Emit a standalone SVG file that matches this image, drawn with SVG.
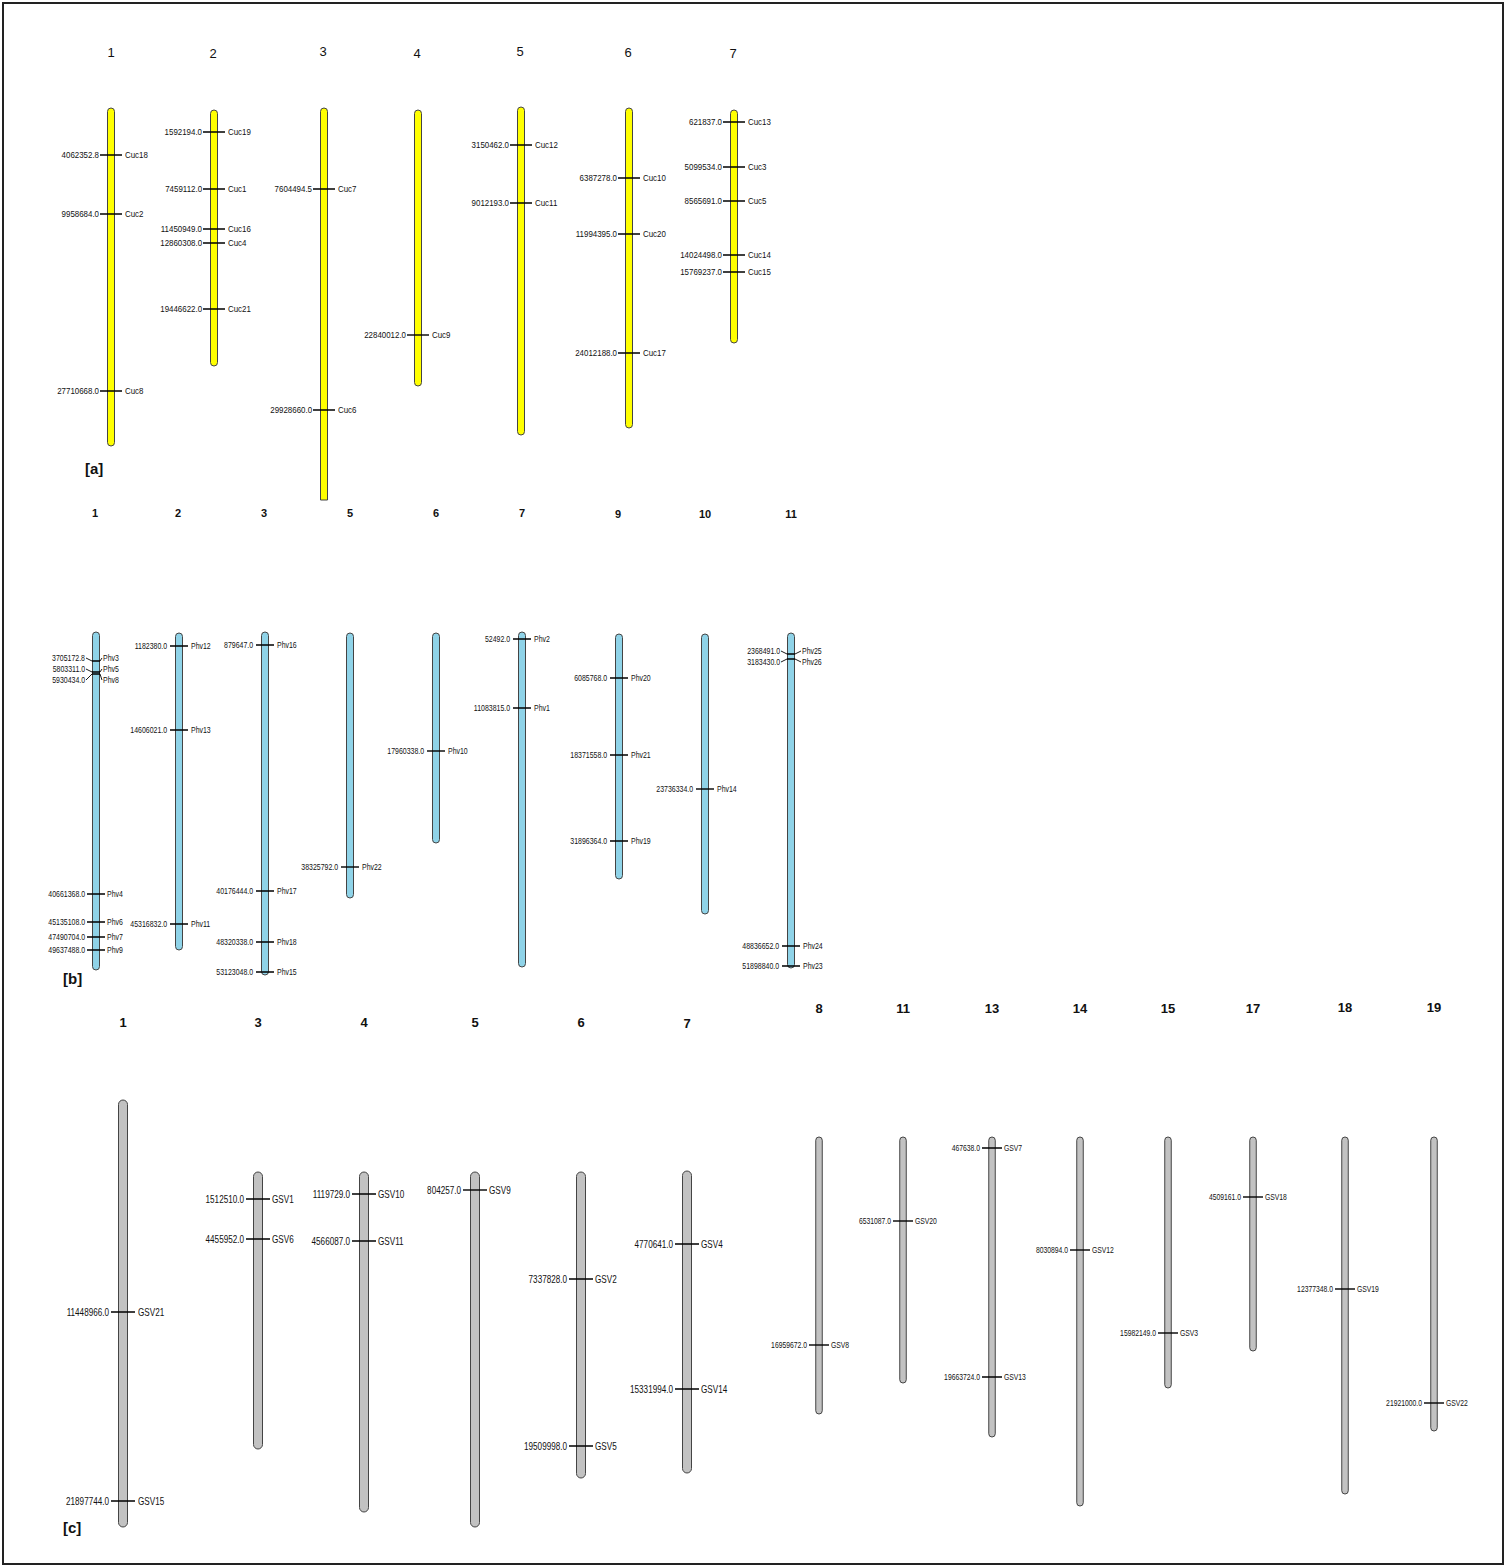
<svg xmlns="http://www.w3.org/2000/svg" width="1507" height="1568" viewBox="0 0 1507 1568">
<style>
text{font-family:"Liberation Sans",Arial,sans-serif;fill:#111;transform-box:fill-box;transform-origin:0 50%}
text.e{text-anchor:end;transform-origin:100% 50%}
.na{font-size:9px;transform:scaleX(0.88)}
.nb{font-size:8.5px;transform:scaleX(0.82)}
.nc{font-size:11px;transform:scaleX(0.74)}
.ns{font-size:8.5px;transform:scaleX(0.8)}
.ha{font-size:13px;text-anchor:middle}
.hb{font-size:11px;font-weight:bold;text-anchor:middle}
.hc{font-size:13px;font-weight:bold;text-anchor:middle}
.pl{font-size:15px;font-weight:bold}
.y{fill:#ffff00;stroke:#444;stroke-width:1}
.b{fill:#8fd3e8;stroke:#444;stroke-width:1}
.g{fill:#c2c2c2;stroke:#444;stroke-width:1}
.t{stroke:#000;stroke-width:1.4;fill:none}
.l{stroke:#000;stroke-width:0.9;fill:none}
</style>
<rect x="3" y="3" width="1500" height="1561" fill="#fff" stroke="#222" stroke-width="2"/>

<!-- Panel a -->
<g id="panel-a-headers">
<text class="ha" x="111" y="57">1</text><text class="ha" x="213" y="58">2</text><text class="ha" x="323" y="56">3</text><text class="ha" x="417" y="58">4</text><text class="ha" x="520" y="56">5</text><text class="ha" x="628" y="57">6</text><text class="ha" x="733" y="58">7</text>
<text class="pl" x="85" y="474">[a]</text>
</g>
<g id="a1"><rect class="y" x="107.5" y="108" width="7" height="338" rx="3.5"/>
<path class="t" d="M100 155H122M100 214H122M100 391H122"/>
<text class="na e" x="99" y="158">4062352.8</text><text class="na" x="125" y="158">Cuc18</text>
<text class="na e" x="99" y="217">9958684.0</text><text class="na" x="125" y="217">Cuc2</text>
<text class="na e" x="99" y="394">27710668.0</text><text class="na" x="125" y="394">Cuc8</text></g>
<g id="a2"><rect class="y" x="210.5" y="110" width="7" height="256" rx="3.5"/>
<path class="t" d="M203 132H225M203 189H225M203 229H225M203 243H225M203 309H225"/>
<text class="na e" x="202" y="135">1592194.0</text><text class="na" x="228" y="135">Cuc19</text>
<text class="na e" x="202" y="192">7459112.0</text><text class="na" x="228" y="192">Cuc1</text>
<text class="na e" x="202" y="232">11450949.0</text><text class="na" x="228" y="232">Cuc16</text>
<text class="na e" x="202" y="246">12860308.0</text><text class="na" x="228" y="246">Cuc4</text>
<text class="na e" x="202" y="312">19446622.0</text><text class="na" x="228" y="312">Cuc21</text></g>
<g id="a3"><path class="y" d="M320.5 500V111.5A3.5 3.5 0 0 1 327.5 111.5V500Z"/>
<path class="t" d="M313 189H335M313 410H335"/>
<text class="na e" x="312" y="192">7604494.5</text><text class="na" x="338" y="192">Cuc7</text>
<text class="na e" x="312" y="413">29928660.0</text><text class="na" x="338" y="413">Cuc6</text></g>
<g id="a4"><rect class="y" x="414.5" y="110" width="7" height="276" rx="3.5"/>
<path class="t" d="M407 335H429"/>
<text class="na e" x="406" y="338">22840012.0</text><text class="na" x="432" y="338">Cuc9</text></g>
<g id="a5"><rect class="y" x="517.5" y="107" width="7" height="328" rx="3.5"/>
<path class="t" d="M510 145H532M510 203H532"/>
<text class="na e" x="509" y="148">3150462.0</text><text class="na" x="535" y="148">Cuc12</text>
<text class="na e" x="509" y="206">9012193.0</text><text class="na" x="535" y="206">Cuc11</text></g>
<g id="a6"><rect class="y" x="625.5" y="108" width="7" height="320" rx="3.5"/>
<path class="t" d="M618 178H640M618 234H640M618 353H640"/>
<text class="na e" x="617" y="181">6387278.0</text><text class="na" x="643" y="181">Cuc10</text>
<text class="na e" x="617" y="237">11994395.0</text><text class="na" x="643" y="237">Cuc20</text>
<text class="na e" x="617" y="356">24012188.0</text><text class="na" x="643" y="356">Cuc17</text></g>
<g id="a7"><rect class="y" x="730.5" y="110" width="7" height="233" rx="3.5"/>
<path class="t" d="M723 122H745M723 167H745M723 201H745M723 255H745M723 272H745"/>
<text class="na e" x="722" y="125">621837.0</text><text class="na" x="748" y="125">Cuc13</text>
<text class="na e" x="722" y="170">5099534.0</text><text class="na" x="748" y="170">Cuc3</text>
<text class="na e" x="722" y="204">8565691.0</text><text class="na" x="748" y="204">Cuc5</text>
<text class="na e" x="722" y="258">14024498.0</text><text class="na" x="748" y="258">Cuc14</text>
<text class="na e" x="722" y="275">15769237.0</text><text class="na" x="748" y="275">Cuc15</text></g>

<!-- Panel b -->
<g id="panel-b-headers">
<text class="hb" x="95" y="517">1</text><text class="hb" x="178" y="517">2</text><text class="hb" x="264" y="517">3</text><text class="hb" x="350" y="517">5</text><text class="hb" x="436" y="517">6</text><text class="hb" x="522" y="517">7</text><text class="hb" x="618" y="518">9</text><text class="hb" x="705" y="518">10</text><text class="hb" x="791" y="518">11</text>
<text class="pl" x="63" y="984">[b]</text>
</g>
<g id="b1"><rect class="b" x="92.5" y="632" width="7" height="338" rx="3.5"/>
<path class="t" d="M92 661H100M92 672H100M92 674H100M87 894H105M87 922H105M87 937H105M87 950H105"/>
<text class="nb e" x="85" y="661">3705172.8</text><text class="nb" x="103" y="661">Phv3</text>
<text class="nb e" x="85" y="672">5803311.0</text><text class="nb" x="103" y="672">Phv5</text>
<text class="nb e" x="85" y="683">5930434.0</text><text class="nb" x="103" y="683">Phv8</text>
<text class="nb e" x="85" y="897">40661368.0</text><text class="nb" x="107" y="897">Phv4</text>
<text class="nb e" x="85" y="925">45135108.0</text><text class="nb" x="107" y="925">Phv6</text>
<text class="nb e" x="85" y="940">47490704.0</text><text class="nb" x="107" y="940">Phv7</text>
<text class="nb e" x="85" y="953">49637488.0</text><text class="nb" x="107" y="953">Phv9</text></g>
<g id="b2"><rect class="b" x="175.5" y="633" width="7" height="317" rx="3.5"/>
<path class="t" d="M170 646H188M170 730H188M170 924H188"/>
<text class="nb e" x="167" y="649">1182380.0</text><text class="nb" x="191" y="649">Phv12</text>
<text class="nb e" x="167" y="733">14606021.0</text><text class="nb" x="191" y="733">Phv13</text>
<text class="nb e" x="167" y="927">45316832.0</text><text class="nb" x="191" y="927">Phv11</text></g>
<g id="b3"><rect class="b" x="261.5" y="632" width="7" height="343" rx="3.5"/>
<path class="t" d="M256 645H274M256 891H274M256 942H274M256 972H274"/>
<text class="nb e" x="253" y="648">879647.0</text><text class="nb" x="277" y="648">Phv16</text>
<text class="nb e" x="253" y="894">40176444.0</text><text class="nb" x="277" y="894">Phv17</text>
<text class="nb e" x="253" y="945">48320338.0</text><text class="nb" x="277" y="945">Phv18</text>
<text class="nb e" x="253" y="975">53123048.0</text><text class="nb" x="277" y="975">Phv15</text></g>
<g id="b5"><rect class="b" x="346.5" y="633" width="7" height="265" rx="3.5"/>
<path class="t" d="M341 867H359"/>
<text class="nb e" x="338" y="870">38325792.0</text><text class="nb" x="362" y="870">Phv22</text></g>
<g id="b6"><rect class="b" x="432.5" y="633" width="7" height="210" rx="3.5"/>
<path class="t" d="M427 751H445"/>
<text class="nb e" x="424" y="754">17960338.0</text><text class="nb" x="448" y="754">Phv10</text></g>
<g id="b7"><rect class="b" x="518.5" y="632" width="7" height="335" rx="3.5"/>
<path class="t" d="M513 639H531M513 708H531"/>
<text class="nb e" x="510" y="642">52492.0</text><text class="nb" x="534" y="642">Phv2</text>
<text class="nb e" x="510" y="711">11083815.0</text><text class="nb" x="534" y="711">Phv1</text></g>
<g id="b9"><rect class="b" x="615.5" y="634" width="7" height="245" rx="3.5"/>
<path class="t" d="M610 678H628M610 755H628M610 841H628"/>
<text class="nb e" x="607" y="681">6085768.0</text><text class="nb" x="631" y="681">Phv20</text>
<text class="nb e" x="607" y="758">18371558.0</text><text class="nb" x="631" y="758">Phv21</text>
<text class="nb e" x="607" y="844">31896364.0</text><text class="nb" x="631" y="844">Phv19</text></g>
<g id="b10"><rect class="b" x="701.5" y="634" width="7" height="280" rx="3.5"/>
<path class="t" d="M696 789H714"/>
<text class="nb e" x="693" y="792">23736334.0</text><text class="nb" x="717" y="792">Phv14</text></g>
<g id="b11"><rect class="b" x="787.5" y="633" width="7" height="335" rx="3.5"/>
<path class="t" d="M787 654H795M787 659H795M782 946H800M782 966H800"/>
<text class="nb e" x="780" y="654">2368491.0</text><text class="nb" x="802" y="654">Phv25</text>
<text class="nb e" x="780" y="665">3183430.0</text><text class="nb" x="802" y="665">Phv26</text>
<text class="nb e" x="779" y="949">48836652.0</text><text class="nb" x="803" y="949">Phv24</text>
<text class="nb e" x="779" y="969">51898840.0</text><text class="nb" x="803" y="969">Phv23</text></g>

<!-- Panel c -->
<g id="panel-c-headers">
<text class="hc" x="123" y="1027">1</text><text class="hc" x="258" y="1027">3</text><text class="hc" x="364" y="1027">4</text><text class="hc" x="475" y="1027">5</text><text class="hc" x="581" y="1027">6</text><text class="hc" x="687" y="1028">7</text>
<text class="hc" x="819" y="1013">8</text><text class="hc" x="903" y="1013">11</text><text class="hc" x="992" y="1013">13</text><text class="hc" x="1080" y="1013">14</text><text class="hc" x="1168" y="1013">15</text><text class="hc" x="1253" y="1013">17</text><text class="hc" x="1345" y="1012">18</text><text class="hc" x="1434" y="1012">19</text>
<text class="pl" x="63" y="1533">[c]</text>
</g>
<g id="c1"><rect class="g" x="118.5" y="1100" width="9" height="427" rx="4.5"/>
<path class="t" d="M111 1312H135M111 1501H135"/>
<text class="nc e" x="109" y="1316">11448966.0</text><text class="nc" x="138" y="1316">GSV21</text>
<text class="nc e" x="109" y="1505">21897744.0</text><text class="nc" x="138" y="1505">GSV15</text></g>
<g id="c3"><rect class="g" x="253.5" y="1172" width="9" height="277" rx="4.5"/>
<path class="t" d="M246 1199H270M246 1239H270"/>
<text class="nc e" x="244" y="1203">1512510.0</text><text class="nc" x="272" y="1203">GSV1</text>
<text class="nc e" x="244" y="1243">4455952.0</text><text class="nc" x="272" y="1243">GSV6</text></g>
<g id="c4"><rect class="g" x="359.5" y="1172" width="9" height="340" rx="4.5"/>
<path class="t" d="M352 1194H376M352 1241H376"/>
<text class="nc e" x="350" y="1198">1119729.0</text><text class="nc" x="378" y="1198">GSV10</text>
<text class="nc e" x="350" y="1245">4566087.0</text><text class="nc" x="378" y="1245">GSV11</text></g>
<g id="c5"><rect class="g" x="470.5" y="1172" width="9" height="355" rx="4.5"/>
<path class="t" d="M463 1190H487"/>
<text class="nc e" x="461" y="1194">804257.0</text><text class="nc" x="489" y="1194">GSV9</text></g>
<g id="c6"><rect class="g" x="576.5" y="1172" width="9" height="306" rx="4.5"/>
<path class="t" d="M569 1279H593M569 1446H593"/>
<text class="nc e" x="567" y="1283">7337828.0</text><text class="nc" x="595" y="1283">GSV2</text>
<text class="nc e" x="567" y="1450">19509998.0</text><text class="nc" x="595" y="1450">GSV5</text></g>
<g id="c7"><rect class="g" x="682.5" y="1171" width="9" height="302" rx="4.5"/>
<path class="t" d="M675 1244H699M675 1389H699"/>
<text class="nc e" x="673" y="1248">4770641.0</text><text class="nc" x="701" y="1248">GSV4</text>
<text class="nc e" x="673" y="1393">15331994.0</text><text class="nc" x="701" y="1393">GSV14</text></g>
<g id="c8"><rect class="g" x="815.75" y="1137" width="6.5" height="277" rx="3.25"/>
<path class="t" d="M809 1345H829"/>
<text class="ns e" x="807" y="1348">16959672.0</text><text class="ns" x="831" y="1348">GSV8</text></g>
<g id="c11"><rect class="g" x="899.75" y="1137" width="6.5" height="246" rx="3.25"/>
<path class="t" d="M893 1221H913"/>
<text class="ns e" x="891" y="1224">6531087.0</text><text class="ns" x="915" y="1224">GSV20</text></g>
<g id="c13"><rect class="g" x="988.75" y="1137" width="6.5" height="300" rx="3.25"/>
<path class="t" d="M982 1148H1002M982 1377H1002"/>
<text class="ns e" x="980" y="1151">467638.0</text><text class="ns" x="1004" y="1151">GSV7</text>
<text class="ns e" x="980" y="1380">19663724.0</text><text class="ns" x="1004" y="1380">GSV13</text></g>
<g id="c14"><rect class="g" x="1076.75" y="1137" width="6.5" height="369" rx="3.25"/>
<path class="t" d="M1070 1250H1090"/>
<text class="ns e" x="1068" y="1253">8030894.0</text><text class="ns" x="1092" y="1253">GSV12</text></g>
<g id="c15"><rect class="g" x="1164.75" y="1137" width="6.5" height="251" rx="3.25"/>
<path class="t" d="M1158 1333H1178"/>
<text class="ns e" x="1156" y="1336">15982149.0</text><text class="ns" x="1180" y="1336">GSV3</text></g>
<g id="c17"><rect class="g" x="1249.75" y="1137" width="6.5" height="214" rx="3.25"/>
<path class="t" d="M1243 1197H1263"/>
<text class="ns e" x="1241" y="1200">4509161.0</text><text class="ns" x="1265" y="1200">GSV18</text></g>
<g id="c18"><rect class="g" x="1341.75" y="1137" width="6.5" height="357" rx="3.25"/>
<path class="t" d="M1335 1289H1355"/>
<text class="ns e" x="1333" y="1292">12377348.0</text><text class="ns" x="1357" y="1292">GSV19</text></g>
<g id="c19"><rect class="g" x="1430.75" y="1137" width="6.5" height="294" rx="3.25"/>
<path class="t" d="M1424 1403H1444"/>
<text class="ns e" x="1422" y="1406">21921000.0</text><text class="ns" x="1446" y="1406">GSV22</text></g>

<g id="connectors">
<path class="l" d="M86 658L92 661M100 661L102 658M86 669L92 672M100 672L102 669M86 680L92 674M100 674L102 680"/>
<path class="l" d="M781 651L787 654M795 654L801 651M781 662L787 659M795 659L801 662"/>
</g>
</svg>
